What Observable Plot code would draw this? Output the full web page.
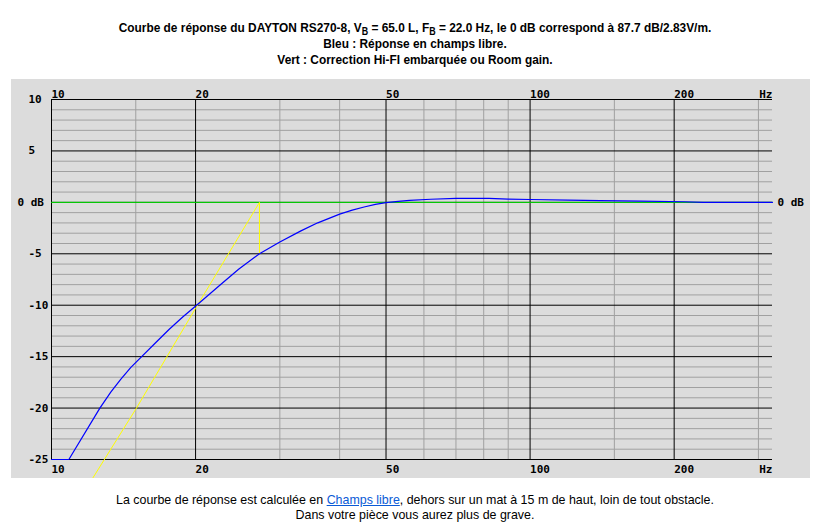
<!DOCTYPE html>
<html><head><meta charset="utf-8">
<script src="https://cdn.jsdelivr.net/npm/d3@7"></script>
<script src="https://cdn.jsdelivr.net/npm/@observablehq/plot@0.6"></script>
<style>
body{margin:0;background:#fff;width:830px;height:528px;position:relative;overflow:hidden;}
#title{position:absolute;left:0;width:830px;top:20px;text-align:center;font:bold 13.5px "Liberation Sans",Arial,sans-serif;line-height:16px;color:#000;transform:scaleX(0.88);transform-origin:415px 0;}
#title sub{font-size:75%;line-height:0;vertical-align:-0.25em;}
#chart{position:absolute;left:11px;top:79px;}
#chart svg{display:block;}
#caption{position:absolute;left:0;width:830px;top:492px;text-align:center;font:13.5px "Liberation Sans",Arial,sans-serif;line-height:15px;color:#000;transform:scaleX(0.92);transform-origin:415px 0;}
#caption a{color:#0a5ad6;text-decoration:underline;}
</style></head>
<body>
<div id="title">Courbe de réponse du DAYTON RS270-8, V<sub>B</sub> = 65.0 L, F<sub>B</sub> = 22.0 Hz, le 0 dB correspond à 87.7 dB/2.83V/m.<br>Bleu : Réponse en champs libre.<br>Vert : Correction Hi-FI embarquée ou Room gain.</div>
<div id="chart"></div>
<div id="caption">La courbe de réponse est calculée en <a href="#">Champs libre</a>, dehors sur un mat à 15 m de haut, loin de tout obstacle.<br>Dans votre pièce vous aurez plus de grave.</div>
<script>
// Grid / ticks
const freqMajor = [10, 20, 50, 100, 200];
const freqMinor = [15, 30, 40, 60, 70, 80, 90, 150, 300];
const freqLabels = ["10", "20", "50", "100", "200"];
const dbMajor = [10, 5, 0, -5, -10, -15, -20, -25];
const dbLabels = ["10", "5", "0 dB", "-5", "-10", "-15", "-20", "-25"];
const dbMinor = d3.range(-25, 11).filter(d => d % 5 !== 0);

// Blue: free-field response (dB, clipped at -25)
const responseFreq = [10, 10.87, 12.62, 13.3, 13.95, 14.65, 15.43, 16.5, 17.6, 18.8, 20.1, 22.6, 24.6, 27.2, 30, 33.2, 36, 40, 42.5, 45, 47.5, 50, 53, 56, 62, 70, 82, 90, 100, 120, 140, 170, 210, 230, 321];
const responseDb   = [-25, -25, -20, -18.45, -17.2, -16.05, -15, -13.65, -12.36, -11.15, -10, -7.96, -6.5, -5.0, -3.85, -2.77, -1.99, -1.14, -0.76, -0.45, -0.2, -0.02, 0.09, 0.19, 0.3, 0.39, 0.39, 0.32, 0.28, 0.22, 0.17, 0.12, 0.06, 0, 0];

// Yellow: correction
const correctionFreq = [12.2, 15.05, 20, 27.2, 27.2];
const correctionDb   = [-26.8, -20, -10.3, 0, -5.0];

// Green: flat reference
const flatFreq = [10, 321];
const flatDb = [0, 0];

const response = responseFreq.map((f, i) => ({f, db: responseDb[i]}));
const correction = correctionFreq.map((f, i) => ({f, db: correctionDb[i]}));
const flat = flatFreq.map((f, i) => ({f, db: flatDb[i]}));
const yTicks = dbMajor.map((d, i) => ({d, label: dbLabels[i]}));
const xTicks = freqMajor.map((f, i) => ({f, label: freqLabels[i]}));

const chart = Plot.plot({
  width: 799, height: 399,
  marginLeft: 40, marginRight: 38, marginTop: 20, marginBottom: 19,
  x: {type: "log", domain: [10, 321], axis: null},
  y: {domain: [-25, 10], axis: null},
  style: {background: "#dcdcdc", fontFamily: "'DejaVu Sans Mono', monospace", fontSize: "11px", fontWeight: "bold", color: "#000"},
  marks: [
    Plot.ruleY(dbMinor, {stroke: "#a0a0a0", strokeWidth: 1}),
    Plot.ruleX(freqMinor, {stroke: "#a0a0a0", strokeWidth: 1}),
    Plot.ruleY(dbMajor, {stroke: "#000", strokeWidth: 1}),
    Plot.ruleX(freqMajor, {stroke: "#000", strokeWidth: 1}),
    Plot.line(flat, {x: "f", y: "db", stroke: "#00e600", strokeWidth: 1}),
    Plot.line(correction, {x: "f", y: "db", stroke: "#ffff00", strokeWidth: 1}),
    Plot.line(response, {x: "f", y: "db", stroke: "#0000ff", strokeWidth: 1.2, curve: "linear"}),
    Plot.text(xTicks, {x: "f", text: "label", frameAnchor: "top", textAnchor: "start", lineAnchor: "bottom", dy: -2, fill: "#000"}),
    Plot.text(["Hz"], {text: d => d, frameAnchor: "top-right", textAnchor: "end", lineAnchor: "bottom", dy: -2, fill: "#000"}),
    Plot.text(xTicks, {x: "f", text: "label", frameAnchor: "bottom", textAnchor: "start", lineAnchor: "top", dy: 6, fill: "#000"}),
    Plot.text(["Hz"], {text: d => d, frameAnchor: "bottom-right", textAnchor: "end", lineAnchor: "top", dy: 6, fill: "#000"}),
    Plot.text(yTicks.filter(t => t.d !== 0), {y: "d", text: "label", frameAnchor: "left", textAnchor: "start", dx: -23, fill: "#000"}),
    Plot.text(yTicks.filter(t => t.d === 0), {y: "d", text: "label", frameAnchor: "left", textAnchor: "start", dx: -34, fill: "#000"}),
    Plot.text(yTicks.filter(t => t.d === 0), {y: "d", text: "label", frameAnchor: "right", textAnchor: "start", dx: 5, fill: "#000"})
  ]
});
document.getElementById("chart").appendChild(chart);
</script>
</body></html>
